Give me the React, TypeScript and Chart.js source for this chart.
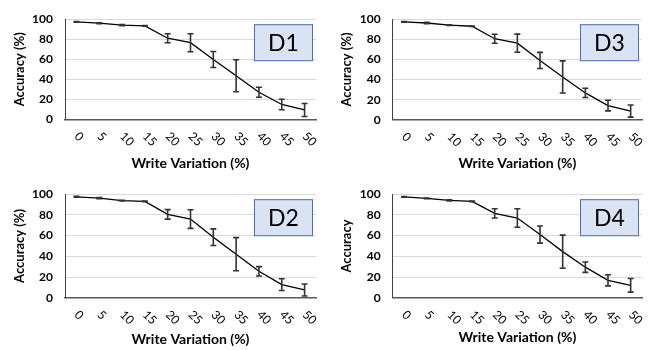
import React, { useEffect, useRef } from "react";
import { Chart, registerables } from "chart.js";

Chart.register(...registerables);

const categories = ["0", "5", "10", "15", "20", "25", "30", "35", "40", "45", "50"];
const yTickValues = [0, 20, 40, 60, 80, 100];

const d1Values = [97.3, 96, 94, 93.3, 81, 76.5, 59.8, 43.5, 27, 14.8, 9.3];
const d1Errors = [0.4, 0.5, 0.6, 0.3, 4.5, 9, 8, 16, 5, 5.3, 6.5];

const d3Values = [97.3, 96.2, 94.2, 93, 80.6, 76.2, 59, 42.6, 26.7, 14.2, 8.7];
const d3Errors = [0.4, 0.6, 0.3, 0.3, 4.5, 9, 8, 16, 4.6, 5.3, 6];

const d2Values = [97.5, 96.2, 93.8, 93, 80.5, 76, 58.5, 42, 25.5, 12.6, 7.5];
const d2Errors = [0.5, 0.6, 0.3, 0.3, 4.6, 9, 8, 16, 4.5, 5.7, 5.8];

const d4Values = [97.5, 96, 94, 93, 81.5, 77, 61, 44.5, 29.5, 16.8, 12];
const d4Errors = [0.3, 0.3, 0.5, 0.3, 4.5, 9, 8.3, 16, 5, 5.4, 6.6];

const FONT = "Lato, 'Open Sans', sans-serif";

type PanelProps = {
  label: string;
  values: number[];
  errors: number[];
  yTitle: string;
  left: number;
  top: number;
  padTop: number;
  padBottom: number;
  padRight: number;
  yWidth: number;
  xHeight: number;
};

function Panel(props: PanelProps) {
  const ref = useRef<HTMLCanvasElement | null>(null);
  useEffect(() => {
    if (!ref.current) return;
    const errors = props.errors;
    const label = props.label;
    const overlay = {
      id: "overlay",
      afterDatasetsDraw(chart: any) {
        const ctx = chart.ctx;
        const xs = chart.scales.x;
        const ys = chart.scales.y;
        const data = chart.data.datasets[0].data as number[];
        ctx.save();
        ctx.strokeStyle = "#333333";
        ctx.lineWidth = 1.6;
        data.forEach((v, i) => {
          const e = errors[i];
          const x = xs.getPixelForValue(i);
          const yHi = ys.getPixelForValue(v + e);
          const yLo = ys.getPixelForValue(Math.max(0, v - e));
          ctx.beginPath();
          ctx.moveTo(x, yHi);
          ctx.lineTo(x, yLo);
          ctx.moveTo(x - 3, yHi);
          ctx.lineTo(x + 3, yHi);
          ctx.moveTo(x - 3, yLo);
          ctx.lineTo(x + 3, yLo);
          ctx.stroke();
        });
        ctx.restore();
      },
      afterDraw(chart: any) {
        const ctx = chart.ctx;
        const xs = chart.scales.x;
        const area = chart.chartArea;
        ctx.save();
        // rotated x tick labels
        ctx.fillStyle = "#000000";
        ctx.font = `12px ${FONT}`;
        ctx.textAlign = "left";
        ctx.textBaseline = "middle";
        categories.forEach((c, i) => {
          const x = xs.getPixelForTick(i);
          ctx.save();
          ctx.translate(x, area.bottom + 15);
          ctx.rotate(Math.PI / 4);
          ctx.fillText(c, 0, 0);
          ctx.restore();
        });
        // label box
        const bw = 59;
        const bh = 37;
        const bx = area.right - 3 - bw;
        const by = area.top + 5;
        ctx.fillStyle = "#dae3f3";
        ctx.fillRect(bx, by, bw, bh);
        ctx.strokeStyle = "#4a6fb5";
        ctx.lineWidth = 1;
        ctx.strokeRect(bx + 0.5, by + 0.5, bw - 1, bh - 1);
        ctx.fillStyle = "#000000";
        ctx.font = `23px ${FONT}`;
        ctx.textAlign = "center";
        ctx.textBaseline = "middle";
        ctx.fillText(label, bx + bw / 2, by + bh / 2 + 1);
        ctx.restore();
      },
    };
    const chart = new Chart(ref.current, {
      type: "line",
      data: {
        labels: categories,
        datasets: [
          {
            data: props.values,
            borderColor: "#000000",
            borderWidth: 1.3,
            pointRadius: 0,
            tension: 0,
            fill: false,
          },
        ],
      },
      options: {
        animation: false,
        responsive: false,
        layout: {
          padding: { top: props.padTop, bottom: props.padBottom, right: props.padRight, left: 0 },
        },
        plugins: {
          legend: { display: false },
          tooltip: { enabled: false },
        },
        scales: {
          x: {
            type: "category",
            offset: true,
            grid: { display: false, drawTicks: false },
            border: { display: true, color: "#595959", width: 1.5 },
            ticks: { display: false },
            title: {
              display: true,
              text: "Write Variation (%)",
              color: "#000000",
              font: { family: FONT, size: 14, weight: "bold" },
              padding: { top: 0, bottom: 0 },
            },
            afterFit: (s: any) => {
              s.height = props.xHeight;
            },
          },
          y: {
            min: 0,
            max: 100,
            afterBuildTicks: (s: any) => {
              s.ticks = yTickValues.map((v) => ({ value: v }));
            },
            grid: { color: "#d9d9d9", lineWidth: 1, drawTicks: false },
            border: { display: true, color: "#404040", width: 1 },
            ticks: {
              padding: 12,
              color: "#000000",
              font: { family: FONT, size: 12, weight: "bold" },
            },
            title: {
              display: true,
              text: props.yTitle,
              color: "#000000",
              font: { family: FONT, size: 13, weight: "bold" },
              padding: { top: 12, bottom: 0 },
            },
            afterFit: (s: any) => {
              s.width = props.yWidth;
            },
          },
        },
      },
      plugins: [overlay],
    });
    return () => chart.destroy();
  }, []);
  return (
    <canvas
      ref={ref}
      width={327}
      height={175}
      style={{ position: "absolute", left: props.left, top: props.top, width: 327, height: 175 }}
    />
  );
}

export default function App() {
  return (
    <div
      style={{
        position: "fixed",
        left: 0,
        top: 0,
        width: 654,
        height: 350,
        background: "#ffffff",
        overflow: "hidden",
      }}
    >
      <Panel label="D1" values={d1Values} errors={d1Errors} yTitle="Accuracy (%)" left={0} top={0}
        padTop={8} padBottom={3.6} padRight={11} yWidth={65} xHeight={52.1} />
      <Panel label="D3" values={d3Values} errors={d3Errors} yTitle="Accuracy (%)" left={327} top={0}
        padTop={8.5} padBottom={3.6} padRight={12} yWidth={65.7} xHeight={51.6} />
      <Panel label="D2" values={d2Values} errors={d2Errors} yTitle="Accuracy (%)" left={0} top={175}
        padTop={12.3} padBottom={2.6} padRight={11} yWidth={65} xHeight={49.7} />
      <Panel label="D4" values={d4Values} errors={d4Errors} yTitle="Accuracy" left={327} top={175}
        padTop={12} padBottom={4} padRight={12} yWidth={65.7} xHeight={48.3} />
    </div>
  );
}
